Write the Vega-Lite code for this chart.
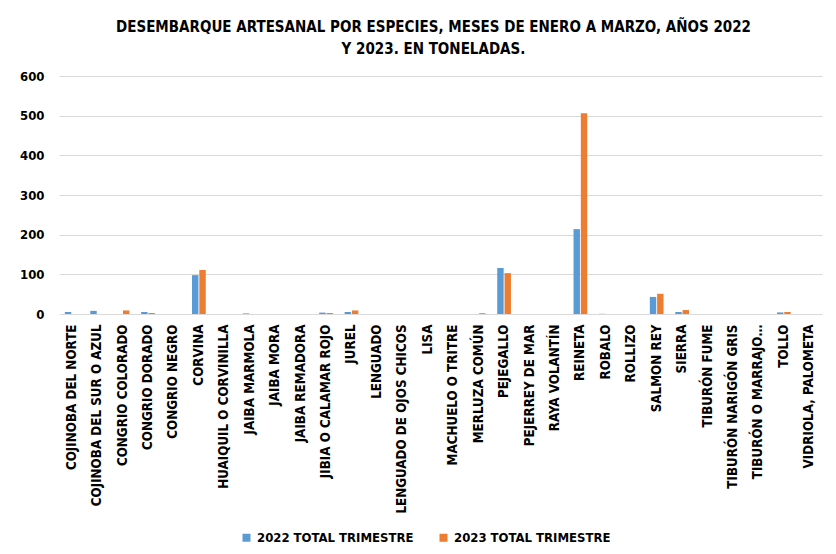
{
  "$schema": "https://vega.github.io/schema/vega-lite/v6.json",
  "width": 763,
  "height": 238,
  "autosize": {"type": "none"},
  "padding": {"left": 59, "top": 76, "right": 14, "bottom": 240},
  "background": "white",
  "title": {
    "text": ["DESEMBARQUE ARTESANAL POR ESPECIES, MESES DE ENERO A MARZO, AÑOS 2022", "Y 2023. EN TONELADAS."],
    "anchor": "middle",
    "fontSize": 15,
    "font": "'Liberation Sans Narrow', 'DejaVu Sans Condensed', 'Liberation Sans'",
    "fontWeight": "bold",
    "color": "#000000",
    "lineHeight": 22,
    "offset": 13,
    "dx": -7
  },
  "data": {
    "values": [
      {"especie": "COJINOBA DEL NORTE", "serie": "2022 TOTAL TRIMESTRE", "t": 5},
      {"especie": "COJINOBA DEL NORTE", "serie": "2023 TOTAL TRIMESTRE", "t": 0},
      {"especie": "COJINOBA DEL SUR O AZUL", "serie": "2022 TOTAL TRIMESTRE", "t": 8},
      {"especie": "COJINOBA DEL SUR O AZUL", "serie": "2023 TOTAL TRIMESTRE", "t": 0},
      {"especie": "CONGRIO COLORADO", "serie": "2022 TOTAL TRIMESTRE", "t": 0},
      {"especie": "CONGRIO COLORADO", "serie": "2023 TOTAL TRIMESTRE", "t": 9},
      {"especie": "CONGRIO DORADO", "serie": "2022 TOTAL TRIMESTRE", "t": 5},
      {"especie": "CONGRIO DORADO", "serie": "2023 TOTAL TRIMESTRE", "t": 2.5},
      {"especie": "CONGRIO NEGRO", "serie": "2022 TOTAL TRIMESTRE", "t": 0},
      {"especie": "CONGRIO NEGRO", "serie": "2023 TOTAL TRIMESTRE", "t": 0},
      {"especie": "CORVINA", "serie": "2022 TOTAL TRIMESTRE", "t": 98},
      {"especie": "CORVINA", "serie": "2023 TOTAL TRIMESTRE", "t": 111},
      {"especie": "HUAIQUIL O CORVINILLA", "serie": "2022 TOTAL TRIMESTRE", "t": 0},
      {"especie": "HUAIQUIL O CORVINILLA", "serie": "2023 TOTAL TRIMESTRE", "t": 0},
      {"especie": "JAIBA MARMOLA", "serie": "2022 TOTAL TRIMESTRE", "t": 1.5},
      {"especie": "JAIBA MARMOLA", "serie": "2023 TOTAL TRIMESTRE", "t": 0},
      {"especie": "JAIBA MORA", "serie": "2022 TOTAL TRIMESTRE", "t": 0},
      {"especie": "JAIBA MORA", "serie": "2023 TOTAL TRIMESTRE", "t": 0},
      {"especie": "JAIBA REMADORA", "serie": "2022 TOTAL TRIMESTRE", "t": 0},
      {"especie": "JAIBA REMADORA", "serie": "2023 TOTAL TRIMESTRE", "t": 0},
      {"especie": "JIBIA O CALAMAR ROJO", "serie": "2022 TOTAL TRIMESTRE", "t": 3.5},
      {"especie": "JIBIA O CALAMAR ROJO", "serie": "2023 TOTAL TRIMESTRE", "t": 2.5},
      {"especie": "JUREL", "serie": "2022 TOTAL TRIMESTRE", "t": 5},
      {"especie": "JUREL", "serie": "2023 TOTAL TRIMESTRE", "t": 9},
      {"especie": "LENGUADO", "serie": "2022 TOTAL TRIMESTRE", "t": 0},
      {"especie": "LENGUADO", "serie": "2023 TOTAL TRIMESTRE", "t": 0},
      {"especie": "LENGUADO DE OJOS CHICOS", "serie": "2022 TOTAL TRIMESTRE", "t": 0},
      {"especie": "LENGUADO DE OJOS CHICOS", "serie": "2023 TOTAL TRIMESTRE", "t": 0},
      {"especie": "LISA", "serie": "2022 TOTAL TRIMESTRE", "t": 0},
      {"especie": "LISA", "serie": "2023 TOTAL TRIMESTRE", "t": 0},
      {"especie": "MACHUELO O TRITRE", "serie": "2022 TOTAL TRIMESTRE", "t": 0},
      {"especie": "MACHUELO O TRITRE", "serie": "2023 TOTAL TRIMESTRE", "t": 0},
      {"especie": "MERLUZA COMÚN", "serie": "2022 TOTAL TRIMESTRE", "t": 0},
      {"especie": "MERLUZA COMÚN", "serie": "2023 TOTAL TRIMESTRE", "t": 2},
      {"especie": "PEJEGALLO", "serie": "2022 TOTAL TRIMESTRE", "t": 116},
      {"especie": "PEJEGALLO", "serie": "2023 TOTAL TRIMESTRE", "t": 103},
      {"especie": "PEJERREY DE MAR", "serie": "2022 TOTAL TRIMESTRE", "t": 0},
      {"especie": "PEJERREY DE MAR", "serie": "2023 TOTAL TRIMESTRE", "t": 0},
      {"especie": "RAYA VOLANTÍN", "serie": "2022 TOTAL TRIMESTRE", "t": 0},
      {"especie": "RAYA VOLANTÍN", "serie": "2023 TOTAL TRIMESTRE", "t": 0},
      {"especie": "REINETA", "serie": "2022 TOTAL TRIMESTRE", "t": 214},
      {"especie": "REINETA", "serie": "2023 TOTAL TRIMESTRE", "t": 506},
      {"especie": "ROBALO", "serie": "2022 TOTAL TRIMESTRE", "t": 0.5},
      {"especie": "ROBALO", "serie": "2023 TOTAL TRIMESTRE", "t": 0},
      {"especie": "ROLLIZO", "serie": "2022 TOTAL TRIMESTRE", "t": 0},
      {"especie": "ROLLIZO", "serie": "2023 TOTAL TRIMESTRE", "t": 0},
      {"especie": "SALMON REY", "serie": "2022 TOTAL TRIMESTRE", "t": 43},
      {"especie": "SALMON REY", "serie": "2023 TOTAL TRIMESTRE", "t": 51},
      {"especie": "SIERRA", "serie": "2022 TOTAL TRIMESTRE", "t": 5},
      {"especie": "SIERRA", "serie": "2023 TOTAL TRIMESTRE", "t": 10},
      {"especie": "TIBURÓN FUME", "serie": "2022 TOTAL TRIMESTRE", "t": 0},
      {"especie": "TIBURÓN FUME", "serie": "2023 TOTAL TRIMESTRE", "t": 0},
      {"especie": "TIBURÓN NARIGÓN GRIS", "serie": "2022 TOTAL TRIMESTRE", "t": 0},
      {"especie": "TIBURÓN NARIGÓN GRIS", "serie": "2023 TOTAL TRIMESTRE", "t": 0},
      {"especie": "TIBURÓN O MARRAJO…", "serie": "2022 TOTAL TRIMESTRE", "t": 0},
      {"especie": "TIBURÓN O MARRAJO…", "serie": "2023 TOTAL TRIMESTRE", "t": 0},
      {"especie": "TOLLO", "serie": "2022 TOTAL TRIMESTRE", "t": 4},
      {"especie": "TOLLO", "serie": "2023 TOTAL TRIMESTRE", "t": 5},
      {"especie": "VIDRIOLA, PALOMETA", "serie": "2022 TOTAL TRIMESTRE", "t": 0},
      {"especie": "VIDRIOLA, PALOMETA", "serie": "2023 TOTAL TRIMESTRE", "t": 0}
    ]
  },
  "mark": {"type": "bar"},
  "encoding": {
    "x": {
      "field": "especie",
      "type": "nominal",
      "sort": null,
      "title": null,
      "scale": {"paddingInner": 0.46, "paddingOuter": 0.23},
      "axis": {
        "labelAngle": -90,
        "labelAlign": "right",
        "labelBaseline": "middle",
        "labelPadding": 10,
        "labelFontSize": 13.3,
        "labelFontWeight": "bold",
        "labelColor": "#000000",
        "labelLimit": 300,
        "ticks": false,
        "domain": false,
        "grid": false
      }
    },
    "xOffset": {"field": "serie", "type": "nominal", "scale": {"paddingInner": 0.12}},
    "y": {
      "field": "t",
      "type": "quantitative",
      "title": null,
      "scale": {"domain": [0, 600]},
      "axis": {
        "values": [0, 100, 200, 300, 400, 500, 600],
        "labelFontSize": 13,
        "labelFontWeight": "bold",
        "labelColor": "#000000",
        "labelPadding": 15,
        "ticks": false,
        "domain": false,
        "gridColor": "#d9d9d9",
        "gridWidth": 1
      }
    },
    "color": {
      "field": "serie",
      "type": "nominal",
      "scale": {"domain": ["2022 TOTAL TRIMESTRE", "2023 TOTAL TRIMESTRE"], "range": ["#5b9bd5", "#ed7d31"]},
      "legend": {
        "title": null,
        "orient": "none",
        "direction": "horizontal",
        "legendX": 181,
        "legendY": 455,
        "symbolType": "square",
        "symbolSize": 64,
        "symbolStrokeWidth": 0,
        "labelFontSize": 13,
        "labelFontWeight": "bold",
        "labelColor": "#000000",
        "columnPadding": 23
      }
    }
  },
  "config": {
    "font": "'Liberation Sans Narrow', 'DejaVu Sans Condensed', 'Liberation Sans'",
    "view": {"stroke": null}
  }
}
